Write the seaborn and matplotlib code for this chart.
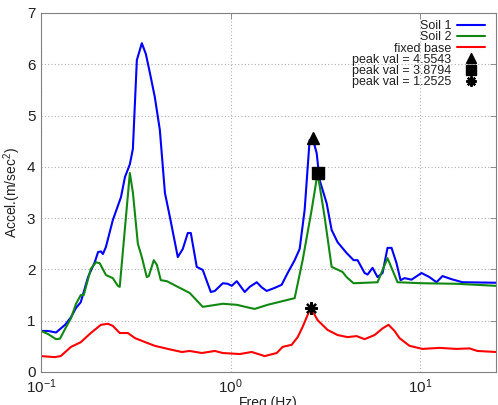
import numpy as np
import pandas as pd
import matplotlib
matplotlib.use("Agg")
import matplotlib.pyplot as plt
import seaborn as sns

# === 数据 (读自参考图) ===
freq_soil1 = [0.100, 0.109, 0.120, 0.134, 0.144, 0.153, 0.162, 0.177, 0.192, 0.200,
              0.207, 0.212, 0.220, 0.239, 0.264, 0.277, 0.294, 0.305, 0.320, 0.340,
              0.357, 0.375, 0.398, 0.423, 0.450, 0.478, 0.526, 0.559, 0.594, 0.616,
              0.662, 0.712, 0.785, 0.824, 0.908, 0.964, 1.012, 1.076, 1.185, 1.259,
              1.371, 1.456, 1.547, 1.705, 1.855, 1.995, 2.172, 2.308, 2.452, 2.604,
              2.702, 2.836, 2.941, 3.202, 3.401, 3.658, 4.079, 4.441, 4.661, 5.075,
              5.262, 5.589, 5.937, 6.310, 6.702, 7.038, 7.477, 7.848, 8.239, 8.966,
              10.12, 11.15, 12.14, 13.06, 14.56, 16.64, 25.0]
accel_soil1 = [0.80, 0.80, 0.77, 0.92, 1.07, 1.25, 1.36, 1.85, 2.14, 2.34,
               2.35, 2.30, 2.44, 2.96, 3.41, 3.80, 4.05, 4.35, 6.08, 6.41,
               6.20, 5.83, 5.36, 4.72, 3.49, 3.02, 2.24, 2.40, 2.71, 2.71,
               2.05, 1.99, 1.56, 1.58, 1.73, 1.72, 1.68, 1.77, 1.56, 1.66,
               1.75, 1.65, 1.58, 1.64, 1.70, 1.93, 2.18, 2.40, 3.16, 4.52,
               4.5543, 4.27, 3.74, 3.29, 2.77, 2.53, 2.32, 2.18, 2.18, 1.93,
               1.90, 2.03, 1.85, 1.93, 2.42, 2.42, 2.12, 1.79, 1.83, 1.80,
               1.93, 1.85, 1.75, 1.87, 1.81, 1.75, 1.74]

freq_soil2 = [0.100, 0.109, 0.120, 0.126, 0.134, 0.144, 0.153, 0.162, 0.168, 0.183,
              0.195, 0.204, 0.220, 0.239, 0.254, 0.260, 0.294, 0.305, 0.324, 0.340,
              0.361, 0.370, 0.393, 0.408, 0.428, 0.461, 0.526, 0.608, 0.712, 0.908,
              1.076, 1.259, 1.338, 1.566, 2.172, 2.393, 2.669, 2.870, 3.125, 3.401,
              3.885, 4.079, 4.441, 5.937, 6.702, 7.568, 10.24, 15.47, 25.0]
accel_soil2 = [0.80, 0.74, 0.64, 0.65, 0.84, 1.05, 1.33, 1.50, 1.50, 2.01,
               2.14, 2.12, 1.89, 1.83, 1.68, 1.66, 3.88, 3.50, 2.50, 2.24,
               1.85, 1.87, 2.18, 2.09, 1.79, 1.77, 1.66, 1.54, 1.27, 1.33,
               1.31, 1.25, 1.23, 1.31, 1.44, 2.18, 3.16, 3.8794, 3.02, 2.05,
               1.95, 1.85, 1.73, 1.75, 2.22, 1.75, 1.73, 1.72, 1.68]

freq_fixed = [0.100, 0.118, 0.127, 0.144, 0.162, 0.183, 0.207, 0.225, 0.239, 0.260,
              0.287, 0.313, 0.361, 0.398, 0.466, 0.552, 0.608, 0.704, 0.824, 0.908,
              1.115, 1.290, 1.510, 1.747, 1.878, 2.095, 2.253, 2.393, 2.637, 2.870,
              3.240, 3.658, 4.130, 4.605, 5.075, 5.727, 6.310, 6.786, 7.298, 7.754,
              8.750, 10.24, 12.59, 15.47, 18.11, 19.95, 25.0]
accel_fixed = [0.31, 0.29, 0.31, 0.49, 0.58, 0.76, 0.92, 0.94, 0.90, 0.76,
               0.76, 0.66, 0.57, 0.51, 0.45, 0.39, 0.41, 0.37, 0.41, 0.37,
               0.35, 0.39, 0.31, 0.37, 0.49, 0.53, 0.68, 0.88, 1.2525, 1.01,
               0.82, 0.72, 0.68, 0.70, 0.64, 0.72, 0.85, 0.92, 0.80, 0.66,
               0.51, 0.45, 0.47, 0.45, 0.46, 0.41, 0.39]

# 峰值点
peak_freq = [2.702, 2.870, 2.637]
peak_val = [4.5543, 3.8794, 1.2525]
peak_marker = ['^', 's', (8, 2, 0)]

series_names = ['Soil 1', 'Soil 2', 'fixed base']
series_colors = ['#0000ff', '#118811', '#ff0000']

df = pd.concat([
    pd.DataFrame({'Freq': freq_soil1, 'Accel': accel_soil1, 'case': 'Soil 1'}),
    pd.DataFrame({'Freq': freq_soil2, 'Accel': accel_soil2, 'case': 'Soil 2'}),
    pd.DataFrame({'Freq': freq_fixed, 'Accel': accel_fixed, 'case': 'fixed base'}),
])

sns.set_style("white")
plt.rcParams['font.family'] = ['Liberation Sans', 'DejaVu Sans']
plt.rcParams['mathtext.fontset'] = 'custom'
plt.rcParams['mathtext.rm'] = 'Liberation Sans'
plt.rcParams['mathtext.it'] = 'Liberation Sans'

fig = plt.figure(figsize=(4.98, 4.05), dpi=100)
ax = fig.add_axes([0.0823, 0.0815, 0.9137, 0.8865])

sns.lineplot(data=df, x='Freq', y='Accel', hue='case', hue_order=series_names,
             palette=series_colors, estimator=None, sort=False, linewidth=1.5, ax=ax)

for f, v, m in zip(peak_freq, peak_val, peak_marker):
    ms = 9 if m != 's' else 8
    ax.plot([f], [v], linestyle='none', marker=m, color='black', markersize=ms,
            markeredgewidth=1.6 if m == (8, 2, 0) else 1.0,
            label='peak val = %.4f' % v)

ax.set_xscale('log')
ax.set_xlim(0.1, 25)
ax.set_ylim(0, 7)
ax.set_yticks(range(0, 8))
ax.minorticks_off()
ax.grid(True, which='major', linestyle=(0, (1, 2)), color='#b0b0b0', linewidth=0.8)

for s in ax.spines.values():
    s.set_color('#808080')
    s.set_linewidth(0.8)
ax.tick_params(direction='in', length=4, width=0.6, color='#808080',
               top=True, right=True, labelsize=11, pad=4, labelcolor='#202020')

ax.set_xlabel('Freq.(Hz)', fontsize=10, labelpad=0, color='#202020')
ax.set_ylabel('Accel.(m/sec$^2$)', fontsize=10, labelpad=3, color='#202020')

handles, labels = ax.get_legend_handles_labels()
leg = ax.legend(handles, labels, loc='upper right', bbox_to_anchor=(0.993, 1.003),
                frameon=False, markerfirst=False, fontsize=9, labelspacing=-0.06,
                handlelength=2.2, handletextpad=0.45, borderaxespad=0.25,
                markerscale=0.82)
for t in leg.get_texts():
    t.set_ha('right')
    t.set_color('#202020')

fig.savefig('out.png', dpi=100)
